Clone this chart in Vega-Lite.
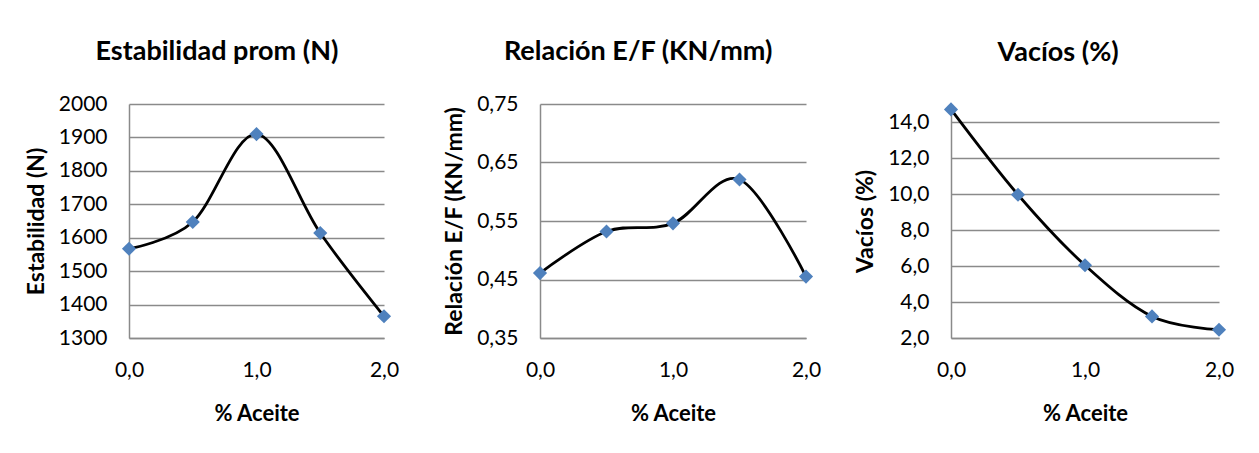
{
  "$schema": "https://vega.github.io/schema/vega-lite/v6.json",
  "padding": {"left": 25, "top": 38, "right": 5, "bottom": 5},
  "background": "white",
  "data": {"values": [
    {"aceite": 0.0, "estabilidad": 1567, "relacion": 0.461, "vacios": 14.7},
    {"aceite": 0.5, "estabilidad": 1647, "relacion": 0.532, "vacios": 9.96},
    {"aceite": 1.0, "estabilidad": 1910, "relacion": 0.546, "vacios": 6.04},
    {"aceite": 1.5, "estabilidad": 1614, "relacion": 0.621, "vacios": 3.2},
    {"aceite": 2.0, "estabilidad": 1365, "relacion": 0.455, "vacios": 2.46}
  ]},
  "bounds": "flush",
  "spacing": 156,
  "hconcat": [
    {
      "width": 255, "height": 234,
      "title": {"text": "Estabilidad prom (N)", "dx": 5},
      "encoding": {
        "x": {"field": "aceite", "type": "quantitative", "title": "% Aceite",
              "scale": {"domain": [0, 2], "nice": false},
              "axis": {"values": [0, 1, 2], "format": ".1f"}},
        "y": {"field": "estabilidad", "type": "quantitative", "title": "Estabilidad (N)",
              "scale": {"domain": [1300, 2000], "nice": false, "zero": false},
              "axis": {"values": [1300, 1400, 1500, 1600, 1700, 1800, 1900, 2000], "format": "d"}}
      },
      "layer": [
        {"mark": {"type": "line", "interpolate": "cardinal", "color": "black", "strokeWidth": 2.8}},
        {"mark": {"type": "point", "shape": "diamond", "filled": true, "color": "#4F81BD", "size": 200, "opacity": 1}}
      ]
    },
    {
      "bounds": "flush",
      "spacing": 145,
      "hconcat": [
        {
          "width": 266, "height": 234,
          "title": {"text": "Relación E/F (KN/mm)", "dx": 6},
          "encoding": {
            "x": {"field": "aceite", "type": "quantitative", "title": "% Aceite",
                  "scale": {"domain": [0, 2], "nice": false},
                  "axis": {"values": [0, 1, 2], "format": ".1f"}},
            "y": {"field": "relacion", "type": "quantitative", "title": "Relación E/F (KN/mm)",
                  "scale": {"domain": [0.35, 0.75], "nice": false, "zero": false},
                  "axis": {"values": [0.35, 0.45, 0.55, 0.65, 0.75], "format": ".2f"}}
          },
          "layer": [
            {"mark": {"type": "line", "interpolate": "cardinal", "color": "black", "strokeWidth": 2.8}},
            {"mark": {"type": "point", "shape": "diamond", "filled": true, "color": "#4F81BD", "size": 200, "opacity": 1}}
          ]
        },
        {
          "width": 268, "height": 234,
          "title": {"text": "Vacíos (%)", "offset": 35, "dx": 14},
          "encoding": {
            "x": {"field": "aceite", "type": "quantitative", "title": "% Aceite",
                  "scale": {"domain": [0, 2], "nice": false},
                  "axis": {"values": [0, 1, 2], "format": ".1f"}},
            "y": {"field": "vacios", "type": "quantitative", "title": "Vacíos (%)",
                  "scale": {"domain": [2, 15], "nice": false, "zero": false},
                  "axis": {"values": [2, 4, 6, 8, 10, 12, 14], "format": ".1f"}}
          },
          "layer": [
            {"mark": {"type": "line", "interpolate": "cardinal", "color": "black", "strokeWidth": 2.8}},
            {"mark": {"type": "point", "shape": "diamond", "filled": true, "color": "#4F81BD", "size": 200, "opacity": 1}}
          ]
        }
      ]
    }
  ],
  "config": {
    "locale": {"number": {"decimal": ",", "thousands": ".", "grouping": [3], "currency": ["", " €"]}},
    "view": {"stroke": null},
    "font": "Lato",
    "title": {"font": "Lato", "fontSize": 27, "fontWeight": "bold", "color": "black", "offset": 27, "anchor": "middle", "frame": "bounds"},
    "axis": {
      "labelFont": "Lato", "labelFontSize": 21, "labelColor": "black",
      "titleFont": "Lato", "titleFontSize": 22, "titleFontWeight": "bold", "titleColor": "black",
      "domainColor": "#8a8a8a", "domainWidth": 1.5,
      "gridColor": "#8a8a8a", "gridWidth": 1.5,
      "ticks": false, "labelFlush": false
    },
    "axisX": {"grid": false, "labelPadding": 21, "titlePadding": 23},
    "axisY": {"grid": true, "labelPadding": 22, "titlePadding": 10, "titleFontSize": 23}
  }
}
